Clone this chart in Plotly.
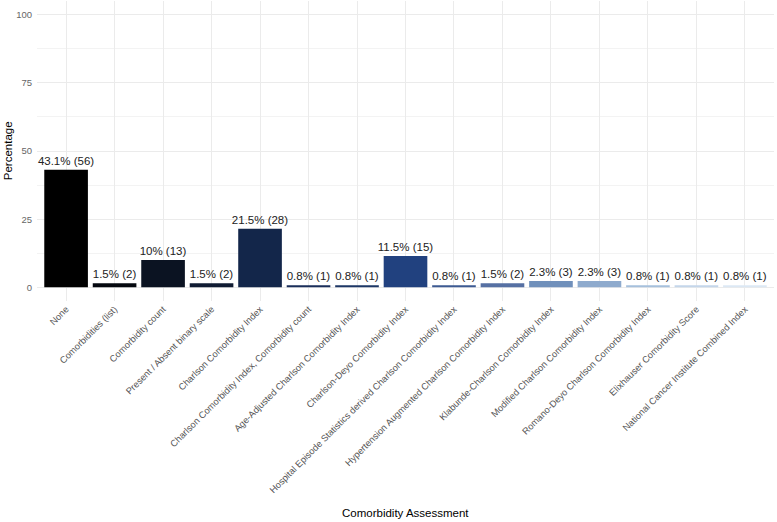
import plotly.graph_objects as go

# comorbidity assessment methods and number of studies using each
categories = [
    "None",
    "Comorbidities (list)",
    "Comorbidity count",
    "Present / Absent binary scale",
    "Charlson Comorbidity Index",
    "Charlson Comorbidity Index, Comorbidity count",
    "Age-Adjusted Charlson Comorbidity Index",
    "Charlson-Deyo Comorbidity Index",
    "Hospital Episode Statistics derived Charlson Comorbidity Index",
    "Hypertension Augmented Charlson Comorbidity Index",
    "Klabunde-Charlson Comorbidity Index",
    "Modified Charlson Comorbidity Index",
    "Romano-Deyo Charlson Comorbidity Index",
    "Elixhauser Comorbidity Score",
    "National Cancer Institute Combined Index",
]
counts = [56, 2, 13, 2, 28, 1, 1, 15, 1, 2, 3, 3, 1, 1, 1]

bar_colors = [
    "#000000", "#05080f", "#0b1322", "#111c33", "#13264a",
    "#1a2e5a", "#1d3766", "#21417f", "#3d5a92", "#5670a3",
    "#7090bb", "#8eaacd", "#a6c0dc", "#c4d6ea", "#dce8f4",
]

total = sum(counts)
pct = [round(c / total * 100, 1) for c in counts]
labels = [f"{p:g}% ({c})" for p, c in zip(pct, counts)]

fig = go.Figure()
fig.add_trace(go.Bar(
    x=categories,
    y=pct,
    marker=dict(color=bar_colors, line=dict(width=0)),
    text=labels,
    textposition="outside",
    constraintext="none",
    cliponaxis=False,
    textfont=dict(family="Liberation Sans", size=11.5, color="#222222"),
    showlegend=False,
))

fig.update_layout(
    width=777,
    height=522,
    margin=dict(l=37, r=3, t=1, b=221),
    plot_bgcolor="white",
    paper_bgcolor="white",
    font=dict(family="Liberation Sans", color="#000000"),
    bargap=0.1,
)

# axis titles placed as annotations so they sit where ggplot put them
fig.add_annotation(text="Comorbidity Assessment", xref="paper", yref="paper",
                   x=0.5, y=-0.707, xanchor="center", yanchor="middle",
                   showarrow=False, font=dict(size=11.5, color="#000000"))
fig.add_annotation(text="Percentage", xref="paper", yref="paper",
                   x=-0.039, y=0.5, xanchor="center", yanchor="middle",
                   textangle=-90, showarrow=False,
                   font=dict(size=11.5, color="#000000"))

fig.update_xaxes(
    range=[-0.6, 14.6],
    tickangle=-45,
    tickfont=dict(size=9.3, color="#555555"),
    showgrid=True,
    gridcolor="#ebebeb",
    gridwidth=1,
    ticks="",
    showline=False,
    zeroline=False,
    automargin=False,
)

fig.update_yaxes(
    range=[-5, 105],
    tickvals=[0, 25, 50, 75, 100],
    tickfont=dict(size=9.5, color="#666666"),
    ticklabelstandoff=4,
    showgrid=True,
    gridcolor="#ebebeb",
    gridwidth=1,
    minor=dict(dtick=12.5, tick0=0, showgrid=True, gridcolor="#f3f3f3", gridwidth=0.5),
    zeroline=False,
    showline=False,
    automargin=False,
)

fig.write_html("out.html", config={"displayModeBar": False},
               post_script="document.body.style.margin='0';")
